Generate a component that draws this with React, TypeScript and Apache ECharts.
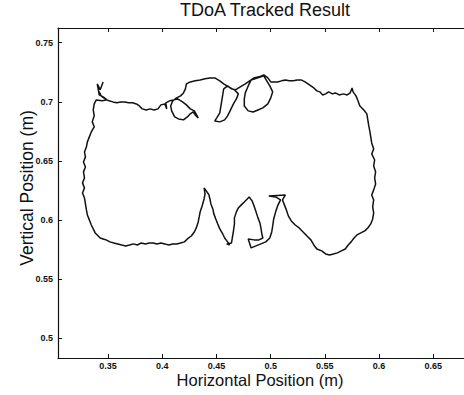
import React, { useEffect, useRef } from "react";
import * as echarts from "echarts";

const titleText = "TDoA Tracked Result";
const xName = "Horizontal Position (m)";
const yName = "Vertical Position (m)";
const xTicks = [0.35, 0.4, 0.45, 0.5, 0.55, 0.6, 0.65];
const yTicks = [0.5, 0.55, 0.6, 0.65, 0.7, 0.75];
const xRange = [0.3039, 0.6783];
const yRange = [0.4833, 0.7624];

const topLeftTangle: [number, number][] = [
  [0.3455, 0.7168], [0.3428, 0.7101], [0.3401, 0.7151], [0.3419, 0.7058], [0.3455, 0.7041],
  [0.3491, 0.7016], [0.3446, 0.7008], [0.3392, 0.7016], [0.3373, 0.6982],
];
const leftSide: [number, number][] = [
  [0.3364, 0.6931], [0.3373, 0.6881], [0.3355, 0.683], [0.3373, 0.6788], [0.3346, 0.6745],
  [0.3328, 0.6703], [0.331, 0.6661], [0.3301, 0.6618], [0.3283, 0.6576], [0.3292, 0.6534],
  [0.3274, 0.6491], [0.3292, 0.6449], [0.3274, 0.6407], [0.3283, 0.6356], [0.3265, 0.6314],
  [0.3283, 0.6272], [0.3265, 0.6229], [0.3283, 0.6187], [0.3292, 0.6136], [0.3301, 0.6085],
  [0.331, 0.6043], [0.3328, 0.6001], [0.3346, 0.5958], [0.3364, 0.5925], [0.3382, 0.5891],
  [0.341, 0.5865], [0.3428, 0.5848], [0.3455, 0.584], [0.3482, 0.5832],
];
const bottomLeft: [number, number][] = [
  [0.3518, 0.5815], [0.3554, 0.5806], [0.359, 0.5798], [0.3627, 0.5789], [0.3663, 0.5781],
  [0.3699, 0.5789], [0.3735, 0.5798], [0.3771, 0.5789], [0.3807, 0.5806], [0.3844, 0.5798],
  [0.388, 0.5806], [0.3916, 0.5806], [0.3952, 0.5798], [0.3988, 0.5806], [0.4024, 0.5798],
  [0.406, 0.5789], [0.4097, 0.5798], [0.4133, 0.5798], [0.4169, 0.5806], [0.4205, 0.5815],
  [0.4232, 0.584],
];
const peaks: [number, number][] = [
  [0.4268, 0.5865], [0.4296, 0.5899], [0.4314, 0.5933], [0.4332, 0.5984], [0.4341, 0.6026],
  [0.435, 0.6069], [0.4368, 0.6119], [0.4386, 0.6178], [0.4395, 0.6221], [0.4386, 0.6272],
  [0.4413, 0.6238], [0.4431, 0.6212], [0.444, 0.6178], [0.4449, 0.6136], [0.4467, 0.6094],
  [0.4476, 0.6052], [0.4494, 0.6009], [0.4512, 0.5967], [0.4531, 0.5925], [0.4558, 0.5882],
  [0.4576, 0.5848], [0.4603, 0.5815], [0.4621, 0.5789], [0.4594, 0.5798], [0.4639, 0.5806],
  [0.4648, 0.5857], [0.4657, 0.5908], [0.4666, 0.5967], [0.4666, 0.6018], [0.4684, 0.6069],
  [0.4702, 0.6102], [0.4729, 0.6128], [0.4757, 0.6153], [0.4784, 0.6178], [0.4802, 0.6195],
  [0.4829, 0.6162], [0.4847, 0.6119], [0.4865, 0.6069], [0.4883, 0.6018], [0.4901, 0.5975],
  [0.491, 0.5933], [0.4919, 0.5882], [0.4928, 0.5848], [0.4892, 0.5832], [0.4847, 0.5832],
  [0.4793, 0.584], [0.482, 0.5764], [0.4865, 0.5781], [0.491, 0.5798], [0.4955, 0.5815],
  [0.4992, 0.5848], [0.501, 0.5899], [0.5019, 0.595], [0.5028, 0.6009], [0.5046, 0.6069],
  [0.5064, 0.6119], [0.5091, 0.617], [0.5046, 0.6195], [0.4983, 0.6204], [0.5136, 0.6212],
  [0.5109, 0.617],
];
const bottomRight: [number, number][] = [
  [0.5127, 0.6128], [0.5145, 0.6085], [0.5163, 0.6035], [0.519, 0.5992], [0.5227, 0.5958],
  [0.5263, 0.5933], [0.5299, 0.5899], [0.5335, 0.5865], [0.5371, 0.5832], [0.5398, 0.5789],
  [0.5426, 0.5755], [0.5471, 0.5739], [0.5507, 0.5713], [0.5543, 0.5705], [0.5579, 0.5713],
  [0.5615, 0.5722], [0.5652, 0.5739], [0.5688, 0.5755], [0.5715, 0.5789], [0.5742, 0.5815],
  [0.5769, 0.5848], [0.5796, 0.5874], [0.5832, 0.5891], [0.5868, 0.5908], [0.5896, 0.5933],
  [0.5923, 0.5967], [0.5941, 0.6009], [0.595, 0.606], [0.5941, 0.6111], [0.595, 0.617],
];
const rightSide: [number, number][] = [
  [0.5932, 0.6212], [0.595, 0.6255], [0.5968, 0.6305], [0.5959, 0.6356], [0.5968, 0.6407],
  [0.595, 0.6458], [0.5959, 0.6508], [0.5932, 0.6559], [0.595, 0.6601], [0.5932, 0.6652],
  [0.5923, 0.6703], [0.5914, 0.6754], [0.5905, 0.6796], [0.5896, 0.6847], [0.5887, 0.6898],
  [0.5859, 0.6931], [0.5823, 0.6965], [0.5805, 0.7008], [0.5787, 0.705], [0.576, 0.7084],
  [0.5751, 0.7117],
];
const topRight: [number, number][] = [
  [0.5733, 0.7075], [0.5706, 0.7058], [0.567, 0.7067], [0.5633, 0.7058], [0.5597, 0.7075],
  [0.557, 0.7067], [0.5534, 0.7084], [0.5507, 0.7067], [0.548, 0.7058], [0.5453, 0.7084],
  [0.5426, 0.7092], [0.5398, 0.7117], [0.5371, 0.7134], [0.5344, 0.7151], [0.5317, 0.7168],
  [0.5281, 0.7185], [0.5245, 0.7185], [0.5209, 0.7177], [0.5172, 0.7177], [0.5136, 0.7185],
  [0.51, 0.7177], [0.5064, 0.7168], [0.5028, 0.7168], [0.5001, 0.7168], [0.4974, 0.7202],
  [0.4937, 0.7228], [0.4892, 0.7211], [0.4847, 0.7202], [0.482, 0.7185],
];
const rightLoop: [number, number][] = [
  [0.4793, 0.7134], [0.4766, 0.7075], [0.4757, 0.7024], [0.4757, 0.6965], [0.4793, 0.6923],
  [0.4838, 0.6914], [0.4883, 0.6931], [0.4928, 0.6948], [0.4974, 0.6982], [0.5001, 0.7033],
  [0.5019, 0.7084], [0.4992, 0.7134], [0.4964, 0.7177], [0.4937, 0.7219], [0.4883, 0.7202],
  [0.482, 0.7185], [0.4766, 0.7151], [0.472, 0.7126], [0.4675, 0.7101],
];
const narrowLoop: [number, number][] = [
  [0.4639, 0.7109], [0.4603, 0.7134], [0.4567, 0.7109], [0.4558, 0.7058], [0.4549, 0.7008],
  [0.454, 0.6957], [0.4531, 0.6906], [0.4503, 0.6864], [0.4485, 0.6838], [0.4531, 0.683],
  [0.4576, 0.6847], [0.4603, 0.6881], [0.463, 0.6931], [0.4657, 0.6982], [0.4684, 0.7024],
  [0.4702, 0.7067], [0.4666, 0.7101],
];
const topMiddle: [number, number][] = [
  [0.4612, 0.7126], [0.4567, 0.7151], [0.4531, 0.7177], [0.4485, 0.7202], [0.444, 0.7202],
  [0.4395, 0.7194], [0.435, 0.7185], [0.4305, 0.7177], [0.4259, 0.7168], [0.4223, 0.7151],
  [0.4214, 0.7109], [0.4196, 0.7075], [0.4169, 0.705], [0.4133, 0.7033],
];
const smallLoop: [number, number][] = [
  [0.4097, 0.7008], [0.4078, 0.6965], [0.4087, 0.6923], [0.4115, 0.6872], [0.4151, 0.6855],
  [0.4196, 0.6847], [0.4232, 0.6872], [0.4259, 0.6898], [0.4286, 0.6914], [0.4305, 0.6889],
  [0.4332, 0.6864], [0.4296, 0.6923], [0.4259, 0.694], [0.4223, 0.6974], [0.4187, 0.6999],
  [0.4142, 0.7024],
];
const topLeft: [number, number][] = [
  [0.4106, 0.7016], [0.4069, 0.7008], [0.4033, 0.6991], [0.4042, 0.694], [0.4024, 0.6982],
  [0.3988, 0.6974], [0.3961, 0.694], [0.3925, 0.6931], [0.3889, 0.694], [0.3853, 0.6931],
  [0.3816, 0.694], [0.3789, 0.6965], [0.3762, 0.6982], [0.3726, 0.6991], [0.369, 0.6991],
  [0.3654, 0.6999], [0.3618, 0.6999], [0.3581, 0.6991], [0.3545, 0.6999], [0.3509, 0.7008],
  [0.3473, 0.7024], [0.3437, 0.705], [0.3419, 0.7084],
];

const trackPath = [
  ...topLeftTangle, ...leftSide, ...bottomLeft, ...peaks, ...bottomRight, ...rightSide,
  ...topRight, ...rightLoop, ...narrowLoop, ...topMiddle, ...smallLoop, ...topLeft,
];

const FONT = "'Liberation Sans', Arial, Helvetica, sans-serif";
const INK = "#111";

export default function App() {
  const ref = useRef<HTMLDivElement>(null);
  useEffect(() => {
    if (!ref.current) return;
    const chart = echarts.init(ref.current, null, { renderer: "svg" });
    const tickLabel = { fontFamily: FONT, fontSize: 9, fontWeight: "bold" as const, color: INK };
    chart.setOption({
      animation: false,
      backgroundColor: "#fff",
      title: {
        text: titleText,
        left: 265,
        top: 1,
        padding: 0,
        textAlign: "center",
        textStyle: { fontFamily: FONT, fontSize: 18, fontWeight: "normal", color: INK },
      },
      grid: { left: 58, top: 28, right: -8, bottom: 37, containLabel: false },
      xAxis: [
        {
          type: "value",
          min: xRange[0],
          max: xRange[1],
          position: "bottom",
          name: xName,
          nameLocation: "middle",
          nameGap: 13,
          nameMoveOverlap: false,
          nameTextStyle: { fontFamily: FONT, fontSize: 16.5, color: INK, padding: [0, 2, 0, 0] },
          axisLine: { show: true, onZero: false, lineStyle: { color: INK, width: 1.2 } },
          axisTick: { show: true, inside: true, length: 4, customValues: xTicks, lineStyle: { color: INK } },
          axisLabel: { show: true, margin: 3, customValues: xTicks, ...tickLabel },
          splitLine: { show: false },
        },
        {
          type: "value",
          min: xRange[0],
          max: xRange[1],
          position: "top",
          axisLine: { show: true, onZero: false, lineStyle: { color: INK, width: 1.2 } },
          axisTick: { show: true, inside: true, length: 4, customValues: xTicks, lineStyle: { color: INK } },
          axisLabel: { show: false },
          splitLine: { show: false },
        },
      ],
      yAxis: {
        type: "value",
        min: yRange[0],
        max: yRange[1],
        position: "left",
        name: yName,
        nameLocation: "middle",
        nameGap: 22,
        nameMoveOverlap: false,
        nameTextStyle: { fontFamily: FONT, fontSize: 17.5, color: INK, padding: [0, 0, 0, 10] },
        axisLine: { show: true, onZero: false, lineStyle: { color: INK, width: 1.2 } },
        axisTick: { show: true, inside: true, length: 4, customValues: yTicks, lineStyle: { color: INK } },
        axisLabel: { show: true, margin: 5, customValues: yTicks, ...tickLabel },
        splitLine: { show: false },
      },
      series: [
        {
          type: "line",
          xAxisIndex: 0,
          yAxisIndex: 0,
          data: trackPath,
          showSymbol: false,
          symbol: "none",
          smooth: false,
          lineStyle: { color: INK, width: 1.5 },
          clip: true,
        },
      ],
    });
    return () => chart.dispose();
  }, []);
  return (
    <div
      ref={ref}
      style={{ position: "absolute", left: 0, top: 0, width: 464, height: 395, background: "#fff" }}
    />
  );
}
